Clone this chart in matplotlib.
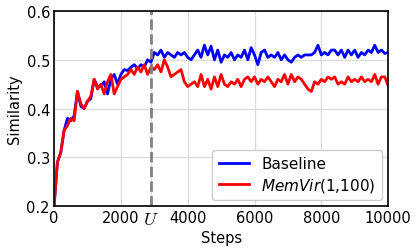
import matplotlib
matplotlib.use("Agg")
import matplotlib.pyplot as plt
import numpy as np

steps = np.arange(0, 10001, 100)

baseline = [0.20, 0.29, 0.31, 0.355, 0.38, 0.375, 0.385, 0.435, 0.405, 0.40,
            0.415, 0.42, 0.46, 0.445, 0.445, 0.455, 0.43, 0.46, 0.47, 0.45,
            0.47, 0.48, 0.478, 0.485, 0.49, 0.482, 0.49, 0.485, 0.50, 0.495,
            0.515, 0.51, 0.52, 0.505, 0.515, 0.51, 0.505, 0.515, 0.51, 0.515,
            0.505, 0.50, 0.51, 0.52, 0.505, 0.53, 0.51, 0.528, 0.50, 0.52,
            0.495, 0.51, 0.505, 0.515, 0.50, 0.51, 0.505, 0.52, 0.50, 0.525,
            0.51, 0.49, 0.515, 0.52, 0.505, 0.51, 0.505, 0.515, 0.50, 0.51,
            0.50, 0.495, 0.505, 0.51, 0.505, 0.51, 0.51, 0.51, 0.515, 0.53,
            0.51, 0.515, 0.51, 0.52, 0.52, 0.51, 0.52, 0.505, 0.52, 0.51,
            0.52, 0.505, 0.515, 0.51, 0.52, 0.515, 0.53, 0.515, 0.52, 0.513,
            0.515]

memvir = [0.20, 0.29, 0.31, 0.355, 0.365, 0.38, 0.375, 0.435, 0.41, 0.40,
          0.415, 0.425, 0.46, 0.44, 0.45, 0.43, 0.455, 0.47, 0.43, 0.445,
          0.46, 0.465, 0.47, 0.48, 0.47, 0.485, 0.475, 0.49, 0.47, 0.485,
          0.48, 0.49, 0.475, 0.50, 0.485, 0.465, 0.47, 0.475, 0.48, 0.455,
          0.445, 0.45, 0.455, 0.445, 0.47, 0.445, 0.46, 0.44, 0.465, 0.445,
          0.47, 0.45, 0.445, 0.455, 0.45, 0.46, 0.445, 0.46, 0.465, 0.455,
          0.465, 0.45, 0.46, 0.455, 0.465, 0.455, 0.445, 0.46, 0.455, 0.47,
          0.45, 0.47, 0.455, 0.465, 0.46, 0.45, 0.44, 0.435, 0.455, 0.45,
          0.46, 0.455, 0.465, 0.46, 0.465, 0.45, 0.455, 0.45, 0.465, 0.455,
          0.46, 0.455, 0.465, 0.455, 0.46, 0.455, 0.47, 0.45, 0.465, 0.465,
          0.447]

u_step = 2900
xticks = [0, 2000, u_step, 4000, 6000, 8000, 10000]
xticklabels = ["0", "2000", "$U$", "4000", "6000", "8000", "10000"]
yticks = [0.2, 0.3, 0.4, 0.5, 0.6]

fig = plt.figure(figsize=(4.16, 2.51), dpi=100)
ax = fig.add_axes([0.13, 0.175, 0.803, 0.777])

ax.plot(steps, baseline, color="blue", lw=2, label="Baseline")
ax.plot(steps, memvir, color="red", lw=2, label="$MemVir$(1,100)")
ax.axvline(u_step, color="gray", ls="--", lw=2)

ax.set_xlim(0, 10000)
ax.set_ylim(0.2, 0.6)
ax.set_xticks(xticks)
ax.set_xticklabels(xticklabels)
ax.set_yticks(yticks)
ax.grid(True, color="#dddddd", lw=1)
ax.set_axisbelow(True)
ax.tick_params(length=0, labelsize=10.5, pad=3)
for lab in ax.get_xticklabels():
    if lab.get_text() == "$U$":
        lab.set_math_fontfamily("cm")
        lab.set_fontsize(13)
for sp in ax.spines.values():
    sp.set_color("black")
    sp.set_linewidth(1.2)

ax.set_xlabel("Steps", fontsize=10.5, labelpad=1)
ax.set_ylabel("Similarity", fontsize=10.5, labelpad=3)
ax.legend(loc="lower right", fontsize=11, handlelength=2.0, borderpad=0.4,
          labelspacing=0.3, framealpha=1, borderaxespad=0.4)

fig.savefig("out.png", dpi=100)
